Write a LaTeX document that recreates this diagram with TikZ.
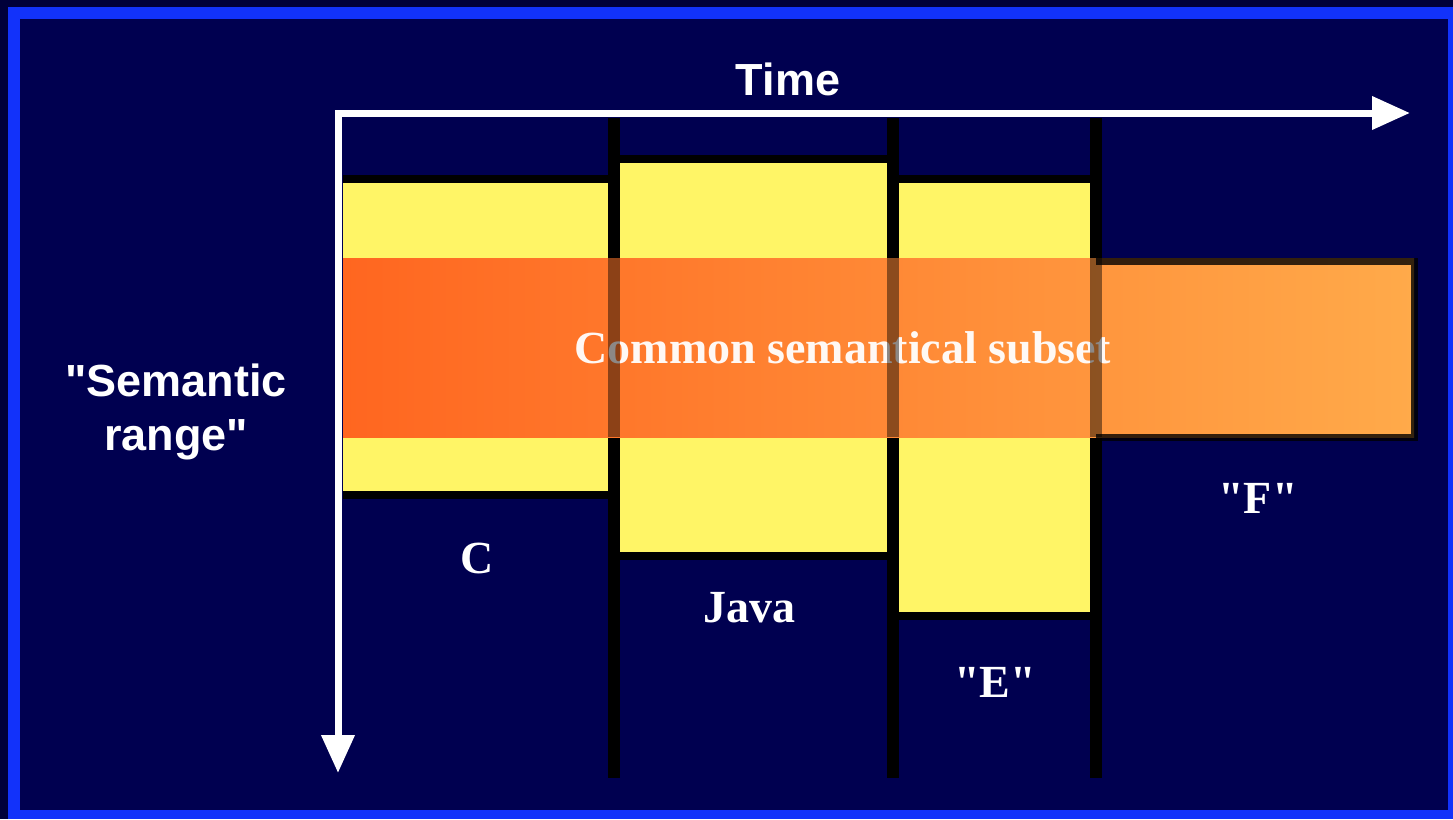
\documentclass[tikz,border=0pt]{standalone}
\usepackage{fontspec}
\setmainfont{Liberation Serif}[Ligatures=TeXOff]
\setsansfont{Liberation Sans}[Ligatures=TeXOff]
\usetikzlibrary{arrows.meta}
\definecolor{outerbg}{HTML}{00003A}
\definecolor{frameblue}{HTML}{1232FA}
\definecolor{navy}{HTML}{000050}
\definecolor{paleyellow}{HTML}{FFF566}
\definecolor{orangeL}{HTML}{FF6620}
\definecolor{orangeR}{HTML}{FFAA4A}
\begin{document}
\begin{tikzpicture}[x=1pt,y=-1pt,
  sanslbl/.style={text=white,inner sep=0pt,font=\sffamily\bfseries\fontsize{45}{54}\selectfont},
  seriflbl/.style={text=white,inner sep=0pt,font=\rmfamily\bfseries\fontsize{46}{52}\selectfont},
  yellowbox/.style={fill=paleyellow},
  edgebar/.style={line width=8pt,black},
  divider/.style={line width=12pt,black},
  dividerband/.style={line width=12pt,black,opacity=0.45},
  axisline/.style={line width=7pt,white,line join=miter,
    {Triangle[length=38pt,width=32pt]}-{Triangle[length=38pt,width=32pt]}}
]
\useasboundingbox (0,0) rectangle (1453,819);
% background and frame
\fill[outerbg] (0,0) rectangle (1453,819);
\fill[frameblue] (8,7) rectangle (1453,819);
\fill[navy] (20,19) rectangle (1448,810);

% yellow language boxes
\fill[yellowbox] (343,183) rectangle (610,491);
\draw[edgebar] (343,179) -- (614,179);
\draw[edgebar] (343,495) -- (614,495);
\fill[yellowbox] (618,163) rectangle (890,552);
\draw[edgebar] (614,159) -- (893,159);
\draw[edgebar] (614,556) -- (893,556);
\fill[yellowbox] (897,183) rectangle (1092,612);
\draw[edgebar] (893,179) -- (1096,179);
\draw[edgebar] (893,616) -- (1096,616);

% dividers
\coordinate (d1top) at (614,118); \coordinate (d1bot) at (614,778);
\coordinate (d2top) at (893,118); \coordinate (d2bot) at (893,778);
\coordinate (d3top) at (1096,118); \coordinate (d3bot) at (1096,778);
\draw[divider] (d1top) -- (d1bot);
\draw[divider] (d2top) -- (d2bot);
\draw[divider] (d3top) -- (d3bot);

% common semantic band
\shade[left color=orangeL,right color=orangeR] (343,258) rectangle (1414,437);
\draw[line width=7pt,black,opacity=0.8] (1096,261) -- (1414,261) -- (1414,437) -- (1096,437);

\node[seriflbl,anchor=base,text opacity=0.95] (common) at (843,363) {Common semantical subset};

\draw[dividerband] (614,258) -- (614,437);
\draw[dividerband] (893,258) -- (893,437);
\draw[dividerband] (1096,258) -- (1096,437);

% axes
\coordinate (origin) at (338,113);
\coordinate (vtip) at (338,773);
\coordinate (htip) at (1410,113);
\draw[axisline] (vtip) -- (origin) -- (htip);

% labels
\node[sanslbl,anchor=base] (time) at (788,95) {Time};
\node[sanslbl,align=center] (semantic) at (176,412) {"Semantic\\range"};
\node[seriflbl,anchor=base] (c) at (477,573) {C};
\node[seriflbl,anchor=base] (java) at (749,622) {Java};
\node[seriflbl,anchor=base] (e) at (995,697) {"E"};
\node[seriflbl,anchor=base] (f) at (1258,513) {"F"};
\end{tikzpicture}
\end{document}
